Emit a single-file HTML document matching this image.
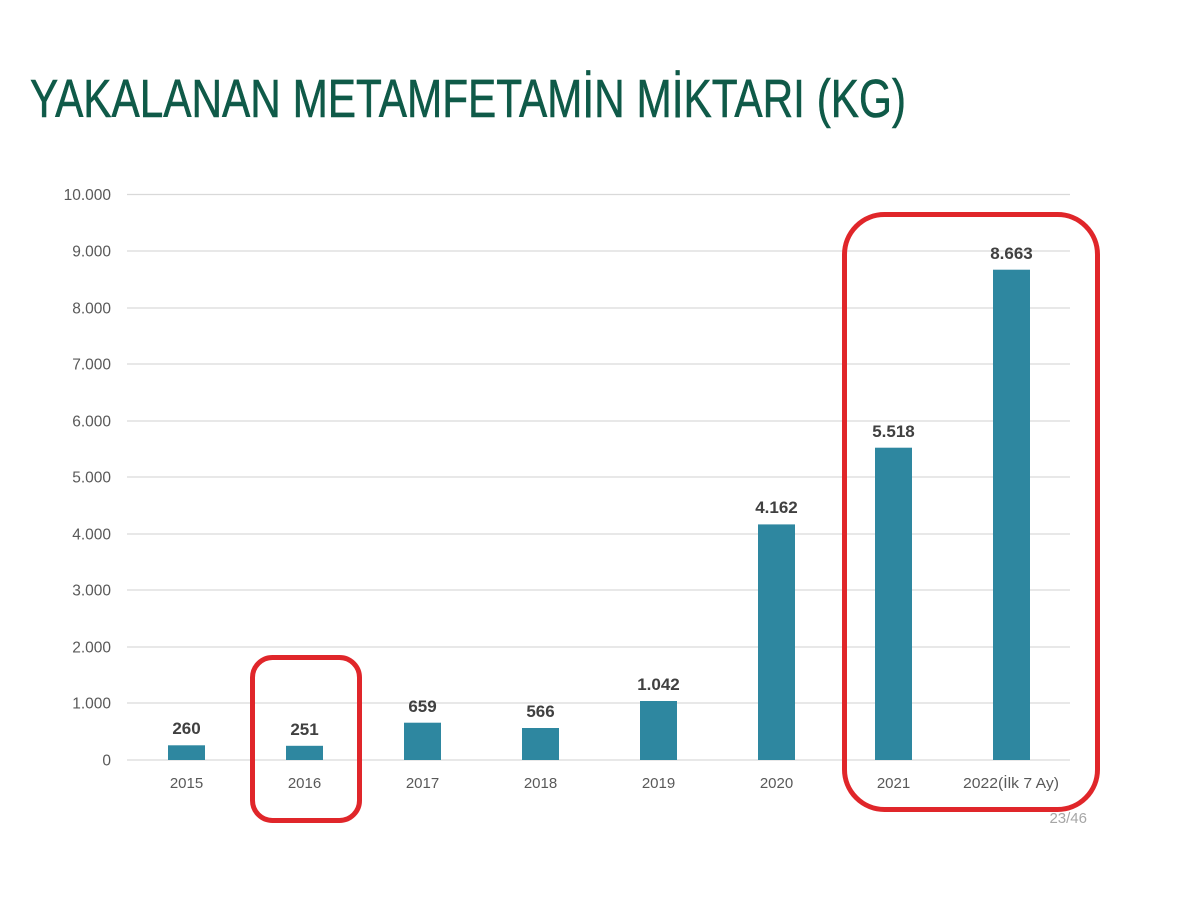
<!DOCTYPE html>
<html>
<head>
<meta charset="utf-8">
<style>
html,body{margin:0;padding:0;background:#fff;}
svg{display:block;}
</style>
</head>
<body>
<svg width="1200" height="900" viewBox="0 0 1200 900" xmlns="http://www.w3.org/2000/svg" font-family="'Liberation Sans', 'DejaVu Sans', sans-serif">
  <rect width="1200" height="900" fill="#ffffff"/>
  <!-- Title -->
  <text x="30" y="117" font-size="54" fill="#0f5a48" stroke="#0f5a48" stroke-width="0.6" textLength="876" lengthAdjust="spacingAndGlyphs">YAKALANAN METAMFETAMİN MİKTARI (KG)</text>

  <!-- Gridlines -->
  <g stroke="#d9d9d9" stroke-width="1.2">
    <line x1="127" x2="1070" y1="194.5" y2="194.5"/>
    <line x1="127" x2="1070" y1="251" y2="251"/>
    <line x1="127" x2="1070" y1="308" y2="308"/>
    <line x1="127" x2="1070" y1="364" y2="364"/>
    <line x1="127" x2="1070" y1="421" y2="421"/>
    <line x1="127" x2="1070" y1="477" y2="477"/>
    <line x1="127" x2="1070" y1="534" y2="534"/>
    <line x1="127" x2="1070" y1="590" y2="590"/>
    <line x1="127" x2="1070" y1="647" y2="647"/>
    <line x1="127" x2="1070" y1="703" y2="703"/>
    <line x1="127" x2="1070" y1="760" y2="760"/>
  </g>

  <!-- Y labels -->
  <g font-size="15.5" fill="#595959" text-anchor="end">
    <text x="111" y="200">10.000</text>
    <text x="111" y="256.5">9.000</text>
    <text x="111" y="313.5">8.000</text>
    <text x="111" y="369.5">7.000</text>
    <text x="111" y="426.5">6.000</text>
    <text x="111" y="482.5">5.000</text>
    <text x="111" y="539.5">4.000</text>
    <text x="111" y="595.5">3.000</text>
    <text x="111" y="652.5">2.000</text>
    <text x="111" y="708.5">1.000</text>
    <text x="111" y="765.5">0</text>
  </g>

  <!-- Bars -->
  <g fill="#2e87a0">
    <rect x="168" y="745.3" width="37" height="14.7"/>
    <rect x="286" y="745.8" width="37" height="14.2"/>
    <rect x="404" y="722.7" width="37" height="37.3"/>
    <rect x="522" y="728" width="37" height="32"/>
    <rect x="640" y="701" width="37" height="59"/>
    <rect x="758" y="524.4" width="37" height="235.6"/>
    <rect x="875" y="447.7" width="37" height="312.3"/>
    <rect x="993" y="269.7" width="37" height="490.3"/>
  </g>

  <!-- Value labels -->
  <g font-size="17" font-weight="bold" fill="#404040" text-anchor="middle">
    <text x="186.5" y="734">260</text>
    <text x="304.5" y="735">251</text>
    <text x="422.5" y="712">659</text>
    <text x="540.5" y="717">566</text>
    <text x="658.5" y="690">1.042</text>
    <text x="776.5" y="513">4.162</text>
    <text x="893.5" y="437">5.518</text>
    <text x="1011.5" y="259">8.663</text>
  </g>

  <!-- Category labels -->
  <g font-size="15" fill="#595959" text-anchor="middle">
    <text x="186.5" y="788">2015</text>
    <text x="304.5" y="788">2016</text>
    <text x="422.5" y="788">2017</text>
    <text x="540.5" y="788">2018</text>
    <text x="658.5" y="788">2019</text>
    <text x="776.5" y="788">2020</text>
    <text x="893.5" y="788">2021</text>
    <text x="1011" y="788" textLength="96" lengthAdjust="spacingAndGlyphs">2022(İlk 7 Ay)</text>
  </g>

  <!-- Page number -->
  <text x="1087" y="823" font-size="15" fill="#a6a6a6" text-anchor="end">23/46</text>

  <!-- Red highlight boxes -->
  <rect x="252.5" y="657.5" width="107" height="163" rx="20" ry="20" fill="none" stroke="#e0262a" stroke-width="5"/>
  <rect x="844.5" y="214.5" width="253" height="595" rx="40" ry="40" fill="none" stroke="#e0262a" stroke-width="5"/>
</svg>
</body>
</html>
